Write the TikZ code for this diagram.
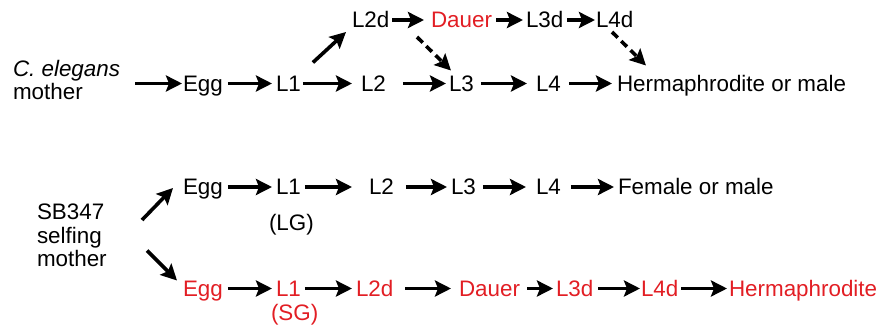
\documentclass[tikz,border=0pt]{standalone}
\usepackage{fontspec}
\setmainfont{Liberation Sans}
\usetikzlibrary{arrows.meta}
\definecolor{dred}{RGB}{226,30,36}
\tikzset{
  txt/.style={inner sep=0pt, outer sep=0pt, text height=16pt, text depth=0pt, anchor=west, font=\fontsize{22.4}{24}\selectfont},
  lbl/.style={inner sep=0pt, outer sep=0pt, align=left, font=\fontsize{22.4}{23.5}\selectfont},
  arr/.style={line width=3.6pt, -{Stealth[length=16pt,width=16pt,inset=3pt]}},
  darr/.style={arr, dash pattern=on 8pt off 5pt},
  rd/.style={text=dred}
}
\begin{document}
\begin{tikzpicture}[x=1pt,y=-1pt]
\useasboundingbox (0,0) rectangle (878,331);
% row 1
\node[txt] (l2d1) at (352,20) {L2d};
\node[txt,rd] (dauer1) at (431,20) {Dauer};
\node[txt] (l3d1) at (526,20) {L3d};
\node[txt] (l4d1) at (596,20) {L4d};
% row 2
\node[lbl, anchor=north west] (ce) at (13,60) {\itshape C. elegans\\mother};
\node[txt] (egg2) at (183,83.5) {Egg};
\node[txt] (l12) at (276,83.5) {L1};
\node[txt] (l22) at (361,83.5) {L2};
\node[txt] (l32) at (449,83.5) {L3};
\node[txt] (l42) at (536,83.5) {L4};
\node[txt] (her2) at (617,83.5) {Hermaphrodite or male};
% row 3
\node[lbl, anchor=north west] (sb) at (37,204) {SB347\\selfing\\mother};
\node[txt] (egg3) at (183,187) {Egg};
\node[txt] (l13) at (276,187) {L1};
\node[txt] (lg) at (269,222) {(LG)};
\node[txt] (l23) at (369,187) {L2};
\node[txt] (l33) at (451,187) {L3};
\node[txt] (l43) at (536,187) {L4};
\node[txt] (fem) at (618,187) {Female or male};
% row 4
\node[txt,rd] (egg4) at (183,288.5) {Egg};
\node[txt,rd] (l14) at (276,288.5) {L1};
\node[txt,rd] (sg) at (271,312) {(SG)};
\node[txt,rd] (l2d4) at (356,288.5) {L2d};
\node[txt,rd] (dauer4) at (459,288.5) {Dauer};
\node[txt,rd] (l3d4) at (556,288.5) {L3d};
\node[txt,rd] (l4d4) at (641,288.5) {L4d};
\node[txt,rd] (her4) at (729,288.5) {Hermaphrodite};
% arrows row 1
\draw[arr, shorten <=3pt, shorten >=7pt] (l2d1.east) -- (dauer1.west);
\draw[arr, shorten <=4pt, shorten >=3pt] (dauer1.east) -- (l3d1.west);
\draw[arr, shorten <=4pt, shorten >=1pt] (l3d1.east) -- (l4d1.west);
% arrows row 2
\draw[arr, shorten <=15pt, shorten >=1pt] (ce.east |- egg2.west) -- (egg2.west);
\draw[arr, shorten <=5pt, shorten >=4pt] (egg2.east) -- (l12.west);
\draw[arr, shorten <=2pt, shorten >=9pt] (l12.east) -- (l22.west);
\draw[arr, shorten <=17pt, shorten >=3pt] (l22.east) -- (l32.west);
\draw[arr, shorten <=7pt, shorten >=9pt] (l32.east) -- (l42.west);
\draw[arr, shorten <=8pt, shorten >=5pt] (l42.east) -- (her2.west);
% diagonal / dashed
\draw[arr] ([shift={(12,-13)}]l12.north east) -- ([shift={(-6,4)}]l2d1.south west);
\draw[darr] ([shift={(-14,9)}]dauer1.south west) -- ([shift={(2,-5)}]l32.north west);
\draw[darr] ([shift={(16,4)}]l4d1.south west) -- ([shift={(29,-10)}]her2.north west);
% row 3
\draw[arr] ([shift={(-41,33)}]egg3.west) -- ([shift={(-10,1)}]egg3.west);
\draw[arr, shorten <=5pt, shorten >=4pt] (egg3.east) -- (l13.west);
\draw[arr, shorten <=4pt, shorten >=17pt] (l13.east) -- (l23.west);
\draw[arr, shorten <=12pt, shorten >=4pt] (l23.east) -- (l33.west);
\draw[arr, shorten <=7pt, shorten >=10pt] (l33.east) -- (l43.west);
\draw[arr, shorten <=10pt, shorten >=4pt] (l43.east) -- (fem.west);
% row 4
\draw[arr] ([shift={(-36,-38)}]egg4.west) -- ([shift={(-6,-8)}]egg4.west);
\draw[arr, shorten <=5pt, shorten >=4pt] (egg4.east) -- (l14.west);
\draw[arr, shorten <=4pt, shorten >=4pt] (l14.east) -- (l2d4.west);
\draw[arr, shorten <=12pt, shorten >=8pt] (l2d4.east) -- (dauer4.west);
\draw[arr, shorten <=7pt, shorten >=3pt] (dauer4.east) -- (l3d4.west);
\draw[arr, shorten <=5pt, shorten >=1pt] (l3d4.east) -- (l4d4.west);
\draw[arr, shorten <=3pt, shorten >=2pt] (l4d4.east) -- (her4.west);
\end{tikzpicture}
\end{document}
